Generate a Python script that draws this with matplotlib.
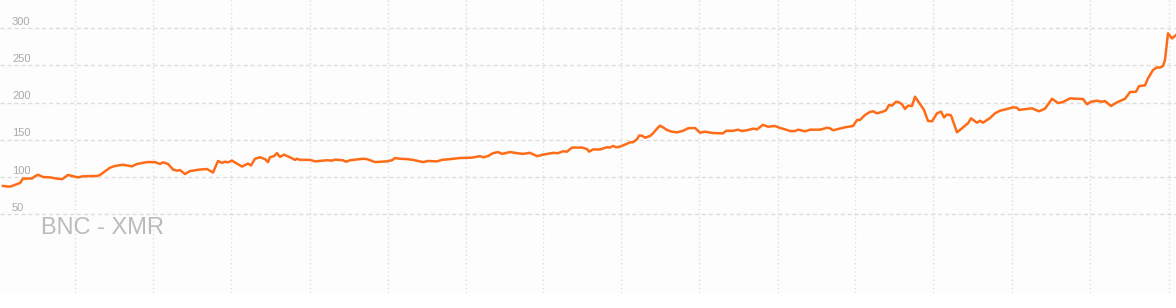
import matplotlib
matplotlib.use("Agg")
import matplotlib.pyplot as plt
import matplotlib.transforms as mtransforms

# --- series (x = time position, y = price) ---
t = [3, 10, 17, 20, 23, 32, 35, 38, 43, 50, 57, 62, 68, 78, 83, 97, 100,
     110, 115, 123, 132, 137, 147, 155, 160, 163, 168, 173, 177, 180, 185, 190,
     200, 207, 213, 218, 222, 225, 228, 232, 237, 242, 248, 251, 255, 260, 265,
     268, 270, 274, 277, 280, 284, 290, 295, 297, 300, 310, 315, 327, 332, 335,
     343, 346, 350, 363, 367, 375, 387, 392, 395,
     400, 407, 413, 418, 423, 428, 437, 442, 450, 460, 472, 480, 483, 488, 493,
     498, 502, 510, 517, 523, 530, 537, 543, 553, 558, 563, 567, 572, 582, 587,
     589, 593,
     600, 607, 610, 613, 616, 619, 625, 630, 633, 637, 639, 642, 645, 650, 653,
     657, 660, 663, 667, 672, 677, 683, 688, 695, 700, 705, 713, 723, 726, 733,
     738, 742, 748, 753, 757, 763, 768, 775, 780, 785, 790, 795, 798,
     800, 805, 810, 820, 827, 830, 833, 840, 845, 853, 857, 860, 865, 870, 873,
     877, 883, 886, 889, 892, 896, 899, 902, 905, 908, 912, 915, 920, 924, 928,
     932, 937, 941, 944, 947, 951, 957, 962, 966, 968, 971, 977, 980, 983, 990,
     995,
     1000, 1007, 1013, 1017, 1019, 1027, 1032, 1035, 1039, 1045, 1052, 1058,
     1063, 1070, 1077, 1083, 1087, 1091, 1097, 1102, 1105, 1111, 1117, 1125,
     1130, 1136, 1139, 1145, 1148, 1153, 1157, 1160, 1163, 1165, 1168, 1172, 1176]
price = [88, 87, 90.6, 92, 97.8, 98, 101, 103, 100, 99.5, 97.8, 97, 102.7, 99.5,
         101, 101.4, 102.7,
         112.5, 114.8, 116.5, 114.3, 117.5, 120, 120, 117.5, 119.7, 117.5, 110,
         108.5, 109.4, 104, 108,
         110, 110.7, 106, 121.5, 119, 120.5, 119.7, 122, 118, 114, 118, 115.5,
         124.5, 126.5, 124, 120, 126.5, 128, 132, 127, 130, 126.5, 123, 124.5,
         123, 123, 121, 122.5, 122, 123.3, 122.5, 120.5, 122.5, 124.5, 124,
         120, 121, 122.5, 125.5,
         124.5, 124, 123, 121.5, 120, 121.5, 121, 123, 124, 125.5, 126, 128,
         126.5, 128, 132, 133.5, 131, 133.5, 132, 131, 132.5, 128, 130, 132.4,
         132, 134.5, 134, 139.5, 139.5, 137.5, 134, 137,
         137, 140, 139.5, 141.7, 140, 140.4, 143.4, 146.6, 146.6, 150.6, 155.5,
         155.5, 152.8, 155, 158.6, 164.9, 168.9, 166.7, 163, 160.8, 160, 162,
         165.4, 165.8, 159.5, 160.8, 159, 158.6, 162, 162, 163.5, 161.7, 163,
         164.9, 164, 170, 167.5, 168.5, 165.8, 164, 161.7, 161.7, 163.5,
         163, 161.3, 163.5, 163.5, 166, 165.4, 162.7, 165, 166.7, 168.5, 176.5,
         176.5, 183.3, 187.3, 188.2, 185.5, 187.8, 189.6, 196.7, 195.8, 201,
         200.3, 197.6, 191.3, 195.8, 195.3, 207.8, 198, 190, 175.2, 174.8, 185.5,
         187.8, 180, 184, 182.8, 160, 165.4, 170, 172, 178.8, 172.9, 175.5,
         172.9, 179.2, 185.5,
         189, 191.3, 193.5, 193, 190, 191.3, 192.2, 190.4, 188.2, 191.7, 205,
         199.3, 200.6, 205.6, 205, 204.7, 197.6, 201, 202.4, 201, 202, 195.3,
         200.3, 205, 214, 214.5, 222, 223, 232.5, 243.6, 247.2, 246.8, 249, 257,
         292.9, 286, 290.6]

y_ticks = [50, 100, 150, 200, 250, 300]
x_grid = [-3, 75, 153, 231, 310, 388, 466, 543, 621, 699, 778, 855, 933, 1012, 1090, 1169]
pair_name = "BNC - XMR"

fig = plt.figure(figsize=(11.76, 3.08), dpi=100)
ax = fig.add_axes([0, 15 / 308, 1, 293 / 308])
ax.set_facecolor("#fdfdfd")
ax.set_xlim(0, 1176)
ax.set_ylim(-55.7, 337.6)

# grid
for yv in y_ticks:
    ax.axhline(yv, color="#dddddd", lw=1, ls=(0, (3, 2)), zorder=1)
for xv in x_grid:
    ax.axvline(xv, color="#dddddd", lw=1, ls=(0, (1, 2)), zorder=1)

# price line
ax.plot(t, price, color="#ff6c17", lw=1.8, zorder=3, solid_joinstyle="round")

# y labels sit inside the plot, just above each gridline
trans = mtransforms.blended_transform_factory(ax.transAxes, ax.transData)
for yv in y_ticks:
    ax.annotate(str(yv), xy=(12 / 1176, yv), xycoords=trans,
                xytext=(0, 2.5), textcoords="offset points",
                fontsize=8, color="#aaaaaa", family="Liberation Sans",
                ha="left", va="baseline")

# watermark
ax.annotate(pair_name, xy=(41 / 1176, 50), xycoords=trans,
            xytext=(0, -14), textcoords="offset points",
            fontsize=17, color="#bbbbbb", family="Liberation Sans",
            ha="left", va="baseline")

for s in ax.spines.values():
    s.set_visible(False)
ax.set_xticks([])
ax.set_yticks([])

fig.savefig("out.png", dpi=100, facecolor="white")
